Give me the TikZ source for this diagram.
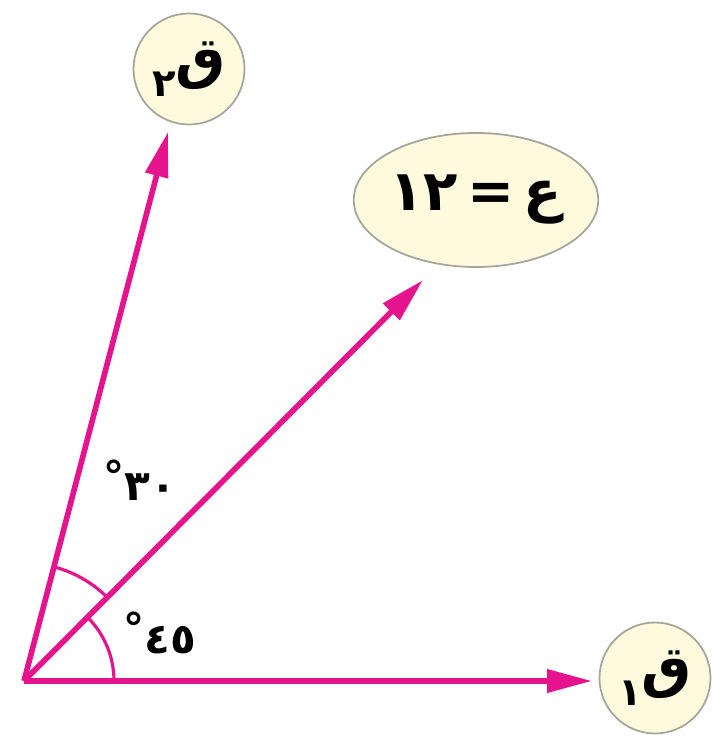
\documentclass[tikz,border=0pt]{standalone}
\usepackage{fontspec}
\usepackage{xcolor}
\usepackage{tikz}
\usetikzlibrary{arrows.meta,shapes.geometric}
\newfontfamily\arabicfont[Script=Arabic]{DejaVu Sans}
\TeXXeTstate=1
\definecolor{vecColor}{RGB}{230, 20, 140}
\definecolor{tagFill}{RGB}{255, 250, 222}
\definecolor{tagLine}{RGB}{165, 165, 155}

\begin{document}
\begin{tikzpicture}[
    vec/.style={-{Triangle[length=0.9cm,width=0.45cm]}, line width=3.2pt, vecColor},
    angarc/.style={line width=1.8pt, vecColor},
    tag/.style={circle, draw=tagLine, fill=tagFill, line width=1pt, minimum size=2.22cm, inner sep=0pt, font=\arabicfont\bfseries\fontsize{32}{34}\selectfont},
    ang/.style={font=\arabicfont\bfseries\fontsize{24}{26}\selectfont}
]
    \useasboundingbox (0,0) rectangle (14.26,14.86);

    \coordinate (O) at (0.48,1.24);
    \coordinate (tipA) at (11.84,1.24);
    \coordinate (tipR) at (8.46,9.26);
    \coordinate (tipB) at (3.36,12.22);

    \node[tag] (qOne) at (13.1,1.3) {\beginR ق\raisebox{-0.6ex}{\fontsize{22}{22}\selectfont ١}\endR};
    \node[tag] (qTwo) at (3.78,13.48) {\beginR ق\raisebox{-0.6ex}{\fontsize{22}{22}\selectfont ٢}\endR};
    \node[tag, ellipse, minimum width=4.64cm, minimum height=2.68cm] (res) at (9.52,10.86) {\beginR ع\,=\,\beginL١٢\endL\endR};

    \draw[angarc] (O) ++(0:1.8) arc[start angle=0, end angle=45, radius=1.8];
    \draw[angarc] (O) ++(45:2.36) arc[start angle=45, end angle=75, radius=2.36];

    \draw[vec] (O) -- (tipA);
    \draw[vec] (O) -- (tipR);
    \draw[vec] (O) -- (tipB);

    \node[ang] (angA) at (3.2,2.2) {\raisebox{0.4ex}{°}\mbox{٤٥}};
    \node[ang] (angB) at (2.8,5.26) {\raisebox{0.4ex}{°}\mbox{٣٠}};
\end{tikzpicture}
\end{document}
